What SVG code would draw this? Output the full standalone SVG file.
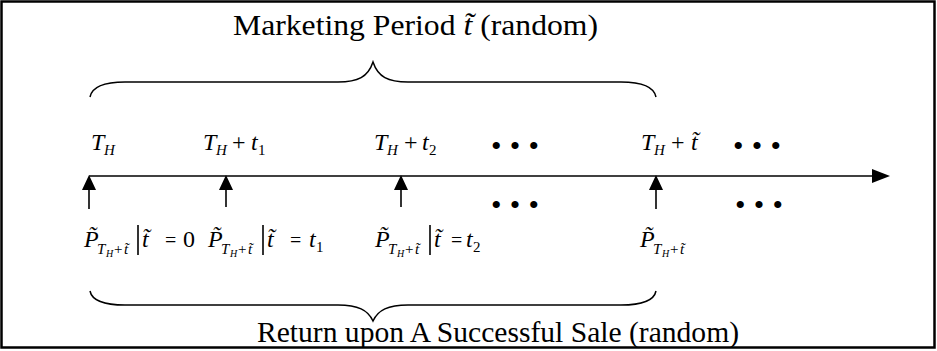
<svg xmlns="http://www.w3.org/2000/svg" width="937" height="351" viewBox="0 0 937 351">
<style>
text{font-family:"Liberation Serif","Times New Roman",serif;fill:#000}
.i{font-style:italic}
.big{font-size:29px}
.m{font-size:24px}
.eq{font-size:20px}
.s{font-size:15px}
.ss{font-size:10px}
.dots{font-size:30px}
.ln{stroke:#000;stroke-width:1.6;fill:none}
.br{stroke:#000;stroke-width:1.5;fill:none}
</style>
<rect x="1.5" y="1.5" width="933" height="346" fill="#fff" stroke="#000" stroke-width="2.5"/>

<g id="title">
<text class="big" x="233" y="35" textLength="365" lengthAdjust="spacingAndGlyphs">Marketing Period <tspan class="i">t̃</tspan> (random)</text>
</g>

<g id="top-brace">
<path class="br" d="M90,97 C92,87 104,82 125,82 L338,82 C358,82 368,77 373,62 C378,77 388,82 408,82 L621,82 C642,82 654,87 656,97"/>
</g>

<g id="connectors">
<line class="ln" x1="89" y1="176" x2="875" y2="176"/>
<polygon points="890,176 872,169 872,183" fill="#000"/>
<line class="ln" x1="89" y1="209" x2="89" y2="189"/>
<polygon points="89,175 82,190 96,190" fill="#000"/>
<line class="ln" x1="226" y1="207" x2="226" y2="189"/>
<polygon points="226,175 219,190 233,190" fill="#000"/>
<line class="ln" x1="401" y1="207" x2="401" y2="189"/>
<polygon points="401,175 394,190 408,190" fill="#000"/>
<line class="ln" x1="656" y1="209" x2="656" y2="189"/>
<polygon points="656,175 649,190 663,190" fill="#000"/>
</g>

<g id="t0">
<text class="m i" x="91" y="150">T</text><text class="s i" x="104" y="155">H</text>
</g>
<g id="t1">
<text class="m i" x="203" y="150">T</text><text class="s i" x="216" y="155">H</text>
<text class="m" x="232" y="150">+</text><text class="m i" x="251" y="150">t</text><text class="s" x="258" y="155">1</text>
</g>
<g id="t2">
<text class="m i" x="374" y="150">T</text><text class="s i" x="387" y="155">H</text>
<text class="m" x="404" y="150">+</text><text class="m i" x="422" y="150">t</text><text class="s" x="429" y="155">2</text>
</g>
<g id="tt">
<text class="m i" x="641" y="150">T</text><text class="s i" x="654" y="155">H</text>
<text class="m" x="671" y="150">+</text><text class="m i" x="691" y="150">t̃</text>
</g>

<g id="dots">
<text class="dots" x="491" y="156" textLength="48" lengthAdjust="spacing">• • •</text>
<text class="dots" x="491" y="215" textLength="48" lengthAdjust="spacing">• • •</text>
<text class="dots" x="733" y="156" textLength="48" lengthAdjust="spacing">• • •</text>
<text class="dots" x="735" y="215" textLength="48" lengthAdjust="spacing">• • •</text>
</g>

<g id="p0">
<text class="m i" x="84" y="247">P̃</text>
<text class="s i" x="97" y="254">T</text><text class="ss i" x="106" y="257">H</text>
<text class="s" x="114" y="254">+</text><text class="s i" x="124" y="254">t̃</text>
<line class="ln" x1="138" y1="225" x2="138" y2="255"/>
<text class="m i" x="142" y="247">t̃</text>
<text class="eq" x="165" y="247">=</text><text class="m" x="183" y="247">0</text>
</g>
<g id="p1">
<text class="m i" x="208" y="247">P̃</text>
<text class="s i" x="221" y="254">T</text><text class="ss i" x="230" y="257">H</text>
<text class="s" x="238" y="254">+</text><text class="s i" x="248" y="254">t̃</text>
<line class="ln" x1="263" y1="225" x2="263" y2="255"/>
<text class="m i" x="267" y="247">t̃</text>
<text class="eq" x="290" y="247">=</text><text class="m i" x="309" y="247">t</text><text class="s" x="316" y="252">1</text>
</g>
<g id="p2">
<text class="m i" x="375" y="247">P̃</text>
<text class="s i" x="388" y="254">T</text><text class="ss i" x="397" y="257">H</text>
<text class="s" x="405" y="254">+</text><text class="s i" x="415" y="254">t̃</text>
<line class="ln" x1="430" y1="225" x2="430" y2="255"/>
<text class="m i" x="434" y="247">t̃</text>
<text class="eq" x="451" y="247">=</text><text class="m i" x="466" y="247">t</text><text class="s" x="473" y="252">2</text>
</g>
<g id="p3">
<text class="m i" x="640" y="247">P̃</text>
<text class="s i" x="653" y="254">T</text><text class="ss i" x="662" y="257">H</text>
<text class="s" x="670" y="254">+</text><text class="s i" x="680" y="254">t̃</text>
</g>

<g id="bottom-brace">
<path class="br" d="M90,291 C92,301 104,305 125,305 L338,305 C358,305 368,310 373,321 C378,310 388,305 408,305 L621,305 C642,305 654,301 656,291"/>
</g>

<g id="bottom-title">
<text class="big" x="257" y="342" textLength="482" lengthAdjust="spacingAndGlyphs">Return upon A Successful Sale (random)</text>
</g>
</svg>
